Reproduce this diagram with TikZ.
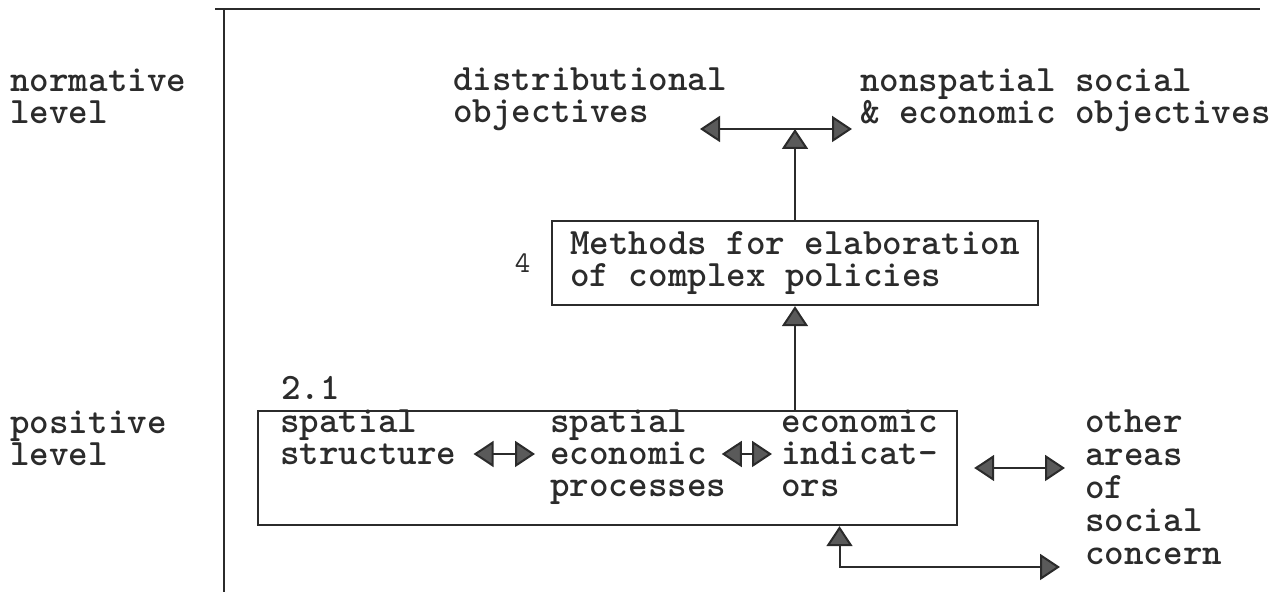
\documentclass[tikz,border=0pt]{standalone}
\usetikzlibrary{arrows.meta,positioning}
\newcommand{\typew}{\fontsize{18.6}{16}\selectfont\ttfamily\bfseries}
\newcommand{\typesm}{\fontsize{15}{15}\selectfont\ttfamily}
\definecolor{ink}{HTML}{2B2B2B}
\definecolor{tipgray}{HTML}{5A5A5A}

\begin{document}
\begin{tikzpicture}[x=0.5pt,y=-0.5pt,>={Triangle[length=10pt,width=13pt,fill=tipgray]},every node/.append style={font=\typew,align=left,inner sep=0pt,text=ink},box/.style={draw=ink,line width=1.2pt,inner sep=0pt},lnk/.style={draw=ink,line width=1pt},lbl/.style={anchor=base west}]
    \useasboundingbox (0,0) rectangle (1276,592);
    % frame
    \draw[lnk,line width=1.3pt] (215,9) -- (1260,9);
    \draw[lnk,line width=1.3pt] (224,9) -- (224,592);
    % levels (base = last line)
    \node [lbl] (norm) at (10,124) {normative\\level};
    \node [lbl] (posit) at (10,466) {positive\\level};
    % normative level
    \node [lbl] (distr) at (453,123) {distributional\\objectives};
    \node [lbl] (nonsp) at (860,124) {nonspatial social\\\& economic objectives};
    \coordinate (objL) at (700,129);
    \coordinate (objR) at (852,129);
    \node [box, minimum width=243pt, minimum height=42pt] (methods) at (795,263) {Methods for elaboration\\of complex policies};
    \node [left=10pt of methods, font=\typesm] (num4) {4};
    % positive level
    \node [box, minimum width=349.5pt, minimum height=57pt] (posbox) at (607.5,468) {};
    \node [lbl] (num21) at (281,400) {2.1};
    \node [lbl] (sstruct) at (280,465) {spatial\\structure};
    \node [lbl] (sproc) at (550,497) {spatial\\economic\\processes};
    \node [lbl] (indic) at (781,497) {economic\\indicat-\\ors};
    \node [lbl, font=\fontsize{18.6}{16.5}\selectfont\ttfamily\bfseries] (other) at (1085,565) {other\\areas\\of\\social\\concern};
    \coordinate (midrow) at (0,454);
    \coordinate (loopend) at (1060,567);
    % arrows
    \draw[lnk,<->] (objL) -- (objR);
    \draw[lnk,->] (methods.north) -- (methods.north |- objL);
    \draw[lnk,->] (posbox.north -| methods.south) -- (methods.south);
    \draw[lnk,<->,shorten <=8.5pt,shorten >=7.5pt] (sstruct.east |- midrow) -- (sproc.west |- midrow);
    \draw[lnk,<->,shorten <=-2.4pt,shorten >=4.5pt] (sproc.east |- midrow) -- (indic.west |- midrow);
    \draw[lnk,<->,shorten <=8pt,shorten >=10pt] (posbox.east) -- (other.west |- posbox.east);
    \draw[lnk,<->] ([xshift=116pt]posbox.south) |- (loopend);
\end{tikzpicture}
\end{document}
